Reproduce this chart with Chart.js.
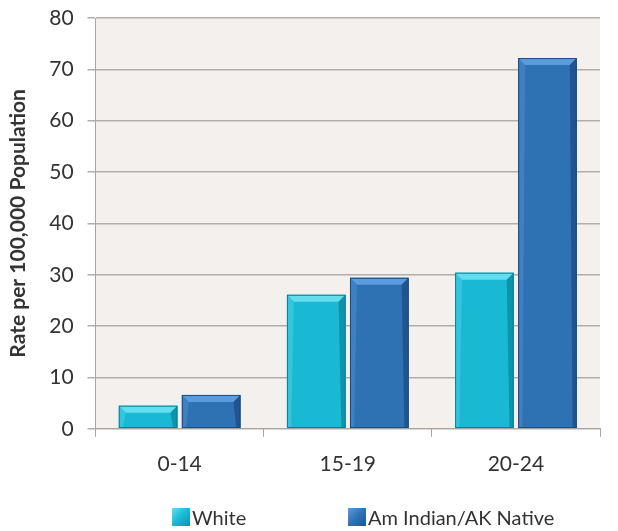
<!DOCTYPE html>
<html><head><meta charset="utf-8">
<script src="https://cdn.jsdelivr.net/npm/chart.js@4/dist/chart.umd.min.js"></script>
<style>
html,body{margin:0;padding:0;background:#fff;}
#wrap{position:relative;width:618px;height:531px;}
#legend{position:absolute;top:505px;left:0;width:618px;height:24px;font-family:Lato,"Open Sans",sans-serif;font-size:20px;color:#333;}
.item{position:absolute;top:0;display:flex;align-items:center;}
.box{width:18px;height:18px;margin-right:2px;}
</style></head>
<body>
<div id="wrap">
<canvas id="c" width="618" height="531"></canvas>
<div id="legend"></div>
</div>
<script>
const categories = ["0-14", "15-19", "20-24"];
const seriesNames = ["White", "Am Indian/AK Native"];
const whiteValues = [4.5, 26.1, 30.4];
const nativeValues = [6.6, 29.4, 72.2];
const yTicks = [0, 10, 20, 30, 40, 50, 60, 70, 80];

const fills = ["#19b9d3", "#2e72b4"];
const tops = ["#62def0", "#5b9be0"];
const sides = ["#0f93ab", "#1f5690"];
const borders = ["#0c7f93", "#1b4b80"];

const bevel = {
  id: 'bevel',
  afterDatasetsDraw(chart) {
    const ctx = chart.ctx;
    chart.data.datasets.forEach((ds, di) => {
      const meta = chart.getDatasetMeta(di);
      meta.data.forEach(bar => {
        const w = bar.width, l = bar.x - w/2, r = bar.x + w/2, t = bar.y, b = bar.base;
        const bv = Math.min(7, (b - t)/2);
        ctx.save();
        ctx.fillStyle = tops[di];
        ctx.beginPath();
        ctx.moveTo(l, t); ctx.lineTo(r, t); ctx.lineTo(r - bv, t + bv); ctx.lineTo(l + bv, t + bv); ctx.closePath(); ctx.fill();
        ctx.fillStyle = sides[di];
        ctx.beginPath();
        ctx.moveTo(r, t); ctx.lineTo(r, b); ctx.lineTo(r - bv*0.6, b); ctx.lineTo(r - bv, t + bv); ctx.closePath(); ctx.fill();
        ctx.globalAlpha = 0.35;
        ctx.fillStyle = tops[di];
        ctx.beginPath();
        ctx.moveTo(l, t); ctx.lineTo(l + bv, t + bv); ctx.lineTo(l + bv*0.6, b); ctx.lineTo(l, b); ctx.closePath(); ctx.fill();
        ctx.globalAlpha = 1;
        ctx.strokeStyle = borders[di];
        ctx.lineWidth = 1;
        ctx.strokeRect(l + 0.5, t + 0.5, w - 1, b - t - 1);
        ctx.restore();
      });
    });
  }
};

const plotBg = {
  id: 'plotBg',
  beforeDraw(chart) {
    const {ctx, chartArea: a} = chart;
    ctx.save();
    ctx.fillStyle = "#f3f0ed";
    ctx.fillRect(a.left, a.top, a.right - a.left, a.bottom - a.top);
    ctx.restore();
  }
};

const font = {family: 'Lato, "Open Sans", sans-serif', size: 21};

new Chart(document.getElementById('c'), {
  type: 'bar',
  data: {
    labels: categories,
    datasets: [
      {label: seriesNames[0], data: whiteValues, backgroundColor: fills[0], borderWidth: 0},
      {label: seriesNames[1], data: nativeValues, backgroundColor: fills[1], borderWidth: 0}
    ]
  },
  options: {
    responsive: false,
    animation: false,
    devicePixelRatio: 1,
    layout: {padding: {left: 6, top: 18, right: 18, bottom: 39}},
    categoryPercentage: 0.75,
    barPercentage: 0.93,
    plugins: {legend: {display: false}, tooltip: {enabled: false}},
    scales: {
      x: {
        grid: {display: true, drawOnChartArea: false, offset: true, tickLength: 8, color: '#a9a5a1'},
        border: {display: true, color: '#a9a5a1', width: 1},
        ticks: {font: font, color: '#333', padding: 15},
        afterFit(scale) { scale.paddingLeft = 0; scale.paddingRight = 0; }
      },
      y: {
        min: 0, max: 80,
        afterBuildTicks(axis) { axis.ticks = yTicks.map(v => ({value: v})); },
        afterFit(scale) { scale.paddingTop = 0; scale.paddingBottom = 0; },
        grid: {color: '#b3aea9', lineWidth: 1.5, tickLength: 8},
        border: {display: true, color: '#a9a5a1', width: 1},
        ticks: {font: font, color: '#333', padding: 14},
        title: {display: true, text: 'Rate per 100,000 Population', font: {family: 'Lato, "Open Sans", sans-serif', size: 21, weight: 'bold'}, color: '#333', padding: {top: 0, bottom: 4}}
      }
    }
  },
  plugins: [plotBg, bevel]
});

const lg = document.getElementById('legend');
const lefts = [172, 348];
seriesNames.forEach((name, i) => {
  const it = document.createElement('div');
  it.className = 'item';
  it.style.left = lefts[i] + 'px';
  const bx = document.createElement('div');
  bx.className = 'box';
  bx.style.background = `linear-gradient(135deg, ${tops[i]} 0%, ${fills[i]} 50%, ${sides[i]} 100%)`;
  const tx = document.createElement('span');
  tx.textContent = name;
  it.appendChild(bx); it.appendChild(tx);
  lg.appendChild(it);
});
</script>
</body></html>
